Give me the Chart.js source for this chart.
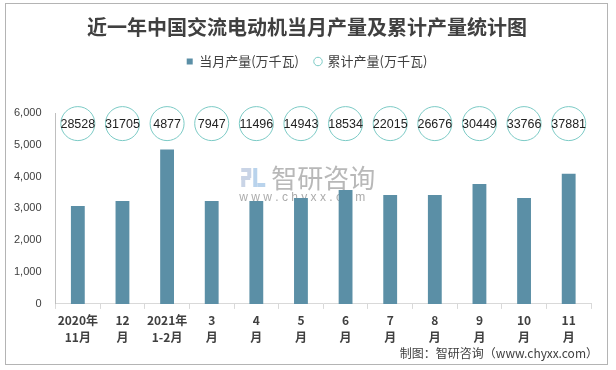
<!DOCTYPE html>
<html><head><meta charset="utf-8">
<script src="https://cdn.jsdelivr.net/npm/chart.js@4/dist/chart.umd.min.js"></script>
<style>html,body{margin:0;padding:0;background:#fff}#wrap{width:616px;height:370px;position:relative}</style>
</head><body><div id="wrap"><canvas id="c" width="616" height="370"></canvas></div>
<script>
// ---- data ----
const TITLE = '近一年中国交流电动机当月产量及累计产量统计图';
const SERIES_NAMES = ['当月产量(万千瓦)', '累计产量(万千瓦)'];
const CATEGORIES = [['2020年','11月'], ['12','月'], ['2021年','1-2月'], ['3','月'], ['4','月'], ['5','月'], ['6','月'], ['7','月'], ['8','月'], ['9','月'], ['10','月'], ['11','月']];
const MONTHLY = [3075, 3235, 4855, 3235, 3235, 3330, 3580, 3425, 3425, 3770, 3330, 4090];
const CUMULATIVE = [28528, 31705, 4877, 7947, 11496, 14943, 18534, 22015, 26676, 30449, 33766, 37881];
const Y_MIN = 0, Y_MAX = 6000, Y_STEP = 1000;
const SOURCE = '制图：智研咨询（www.chyxx.com）';
const WATERMARK = '智研咨询';
const WATERMARK_URL = 'w w w . c h y x x . c o m';
// rings sit in the top row of a hidden category axis
const RING_ROW = '累计产量';
const ROW_LABELS = [RING_ROW, '', '', '', '', '', '', '', ''];

const CJK = "'Noto Sans CJK SC', sans-serif";
const NUM = "'Liberation Sans', 'Noto Sans CJK SC', sans-serif";
const TEXT = '#404040';

const ringData = CUMULATIVE.map((v, i) => ({ x: i, y: RING_ROW, total: v }));

const bgPlugin = {
  id: 'bg',
  beforeDraw(chart) {
    const c = chart.ctx; c.save(); c.fillStyle = '#fff';
    c.fillRect(0, 0, chart.width, chart.height); c.restore();
  },
  beforeDatasetsDraw(chart) {
    const c = chart.ctx, a = chart.chartArea;
    const cx = (a.left + a.right) / 2;
    c.save();
    c.fillStyle = '#C9D4E6';
    c.fillRect(cx - 82, 168, 9, 4); c.fillRect(cx - 76, 168, 4, 10);
    c.fillRect(cx - 82, 176, 9, 4); c.fillRect(cx - 82, 176, 4, 11);
    c.fillStyle = '#B9D3EC';
    c.fillRect(cx - 70, 168, 4, 19); c.fillRect(cx - 66, 183, 8, 4);
    c.fillStyle = 'rgba(160,160,160,0.75)';
    c.font = "26px " + CJK; c.textAlign = 'left'; c.textBaseline = 'middle';
    c.fillText(WATERMARK, cx - 52, 178);
    c.font = "12px " + NUM; c.fillStyle = 'rgba(150,150,150,0.8)';
    c.fillText(WATERMARK_URL, cx - 84, 198);
    c.restore();
  },
  afterDatasetsDraw(chart) {
    const c = chart.ctx;
    const meta = chart.getDatasetMeta(1);
    c.save();
    c.font = "12.5px " + NUM; c.fillStyle = '#222';
    c.textAlign = 'center'; c.textBaseline = 'middle';
    meta.data.forEach((el, i) => {
      const raw = chart.data.datasets[1].data[i];
      c.fillText(String(raw.total), el.x, el.y + 1);
    });
    c.restore();
  },
  afterDraw(chart) {
    const c = chart.ctx;
    c.save();
    c.strokeStyle = '#B4B4B4'; c.lineWidth = 1;
    c.strokeRect(5.5, 3.5, 602, 361);
    c.font = "12px " + CJK; c.fillStyle = TEXT;
    c.textAlign = 'right'; c.textBaseline = 'middle';
    c.fillText(SOURCE, 598, 353);
    c.restore();
  }
};

const legendGap = {
  id: 'legendGap',
  beforeInit(chart) {
    const lg = chart.legend; if (!lg) return;
    const orig = lg.fit;
    lg.fit = function () { orig.call(this); this.height += 35; };
  }
};

new Chart(document.getElementById('c'), {
  data: {
    labels: CATEGORIES,
    datasets: [
      { type: 'bar', label: SERIES_NAMES[0], data: MONTHLY, backgroundColor: '#5B8FA6',
        borderWidth: 0, barPercentage: 0.31, categoryPercentage: 1, yAxisID: 'y', order: 2,
        pointStyle: 'rect' },
      { type: 'line', label: SERIES_NAMES[1], data: ringData, yAxisID: 'yRow', showLine: false,
        pointStyle: 'circle', pointRadius: 17, pointHoverRadius: 17, pointBorderWidth: 1,
        borderWidth: 1, borderColor: '#7CCBC6', backgroundColor: '#fff',
        pointBorderColor: '#7CCBC6', pointBackgroundColor: 'rgba(255,255,255,0)', order: 1 }
    ]
  },
  options: {
    responsive: false, animation: false, locale: 'en-US',
    layout: { padding: { left: 0, right: 2, top: 0, bottom: 21 } },
    plugins: {
      title: { display: true, text: TITLE, color: TEXT,
        font: { family: CJK, size: 20, weight: 'bold', lineHeight: 1.2 },
        padding: { top: 15, bottom: 0 } },
      legend: { display: true, position: 'top',
        labels: { usePointStyle: true, boxWidth: 6, boxHeight: 6, padding: 16, color: TEXT,
          sort: (a, b) => a.datasetIndex - b.datasetIndex,
          font: { family: CJK, size: 13 } } },
      tooltip: { enabled: false }
    },
    scales: {
      x: { type: 'category', offset: true,
        grid: { display: true, drawOnChartArea: false, drawTicks: true, tickLength: 5, color: '#D9D9D9', offset: true },
        border: { display: true, color: '#D9D9D9' },
        ticks: { color: TEXT, padding: 3, maxRotation: 0, autoSkip: false,
          font: { family: CJK, size: 12, weight: 'bold', lineHeight: 1.42 } } },
      y: { type: 'linear', min: Y_MIN, max: Y_MAX, position: 'left',
        grid: { display: false, drawTicks: false },
        border: { display: true, color: '#BFBFBF' },
        ticks: { stepSize: Y_STEP, padding: 14, color: TEXT, font: { family: NUM, size: 11 } } },
      yRow: { type: 'category', labels: ROW_LABELS, offset: true, display: true, position: 'right',
        grid: { display: false, drawTicks: false }, border: { display: false },
        ticks: { display: false },
        afterFit: (s) => { s.width = 23; } }
    }
  },
  plugins: [bgPlugin, legendGap]
});
</script>
</body></html>
